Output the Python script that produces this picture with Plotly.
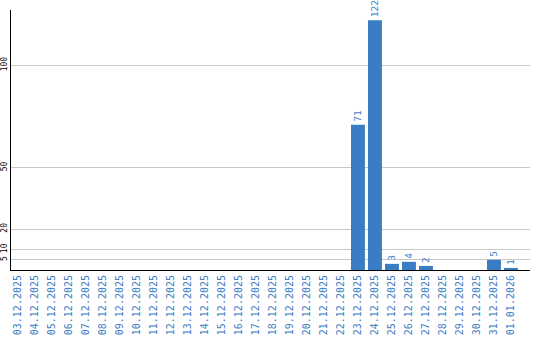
import plotly.graph_objects as go

dates = ["03.12.2025","04.12.2025","05.12.2025","06.12.2025","07.12.2025","08.12.2025",
         "09.12.2025","10.12.2025","11.12.2025","12.12.2025","13.12.2025","14.12.2025",
         "15.12.2025","16.12.2025","17.12.2025","18.12.2025","19.12.2025","20.12.2025",
         "21.12.2025","22.12.2025","23.12.2025","24.12.2025","25.12.2025","26.12.2025",
         "27.12.2025","28.12.2025","29.12.2025","30.12.2025","31.12.2025","01.01.2026"]
values = [0]*20 + [71, 122, 3, 4, 2, 0, 0, 0, 5, 1]
y_ticks = [5, 10, 20, 50, 100]

labels = [str(v) if v else "" for v in values]
blue = "#3b7dc4"

fig = go.Figure(go.Bar(
    x=dates, y=values, marker_color=blue, marker_line_width=0,
    text=labels, textposition="outside", textangle=-90, constraintext="none",
    textfont=dict(family="DejaVu Sans Mono", size=9.5, color=blue),
    cliponaxis=False,
))
fig.update_layout(
    width=540, height=340,
    margin=dict(l=11, r=10, t=10, b=70, autoexpand=False),
    paper_bgcolor="white", plot_bgcolor="white",
    bargap=0.18, showlegend=False, uniformtext=dict(mode=False),
    xaxis=dict(type="category", tickangle=-90, showline=True, linecolor="black", linewidth=1,
               ticks="", showgrid=False, automargin=False, range=[-0.41, 30.12],
               tickfont=dict(family="DejaVu Sans Mono", size=10, color=blue)),
    yaxis=dict(range=[0, 127], tickvals=y_ticks, tickangle=-90, showline=True,
               linecolor="black", linewidth=1, gridcolor="#c8c8c8", gridwidth=1,
               zeroline=False, ticks="", automargin=False,
               tickfont=dict(family="DejaVu Sans Mono", size=8, color="black")),
)
fig.write_html("out.html")
